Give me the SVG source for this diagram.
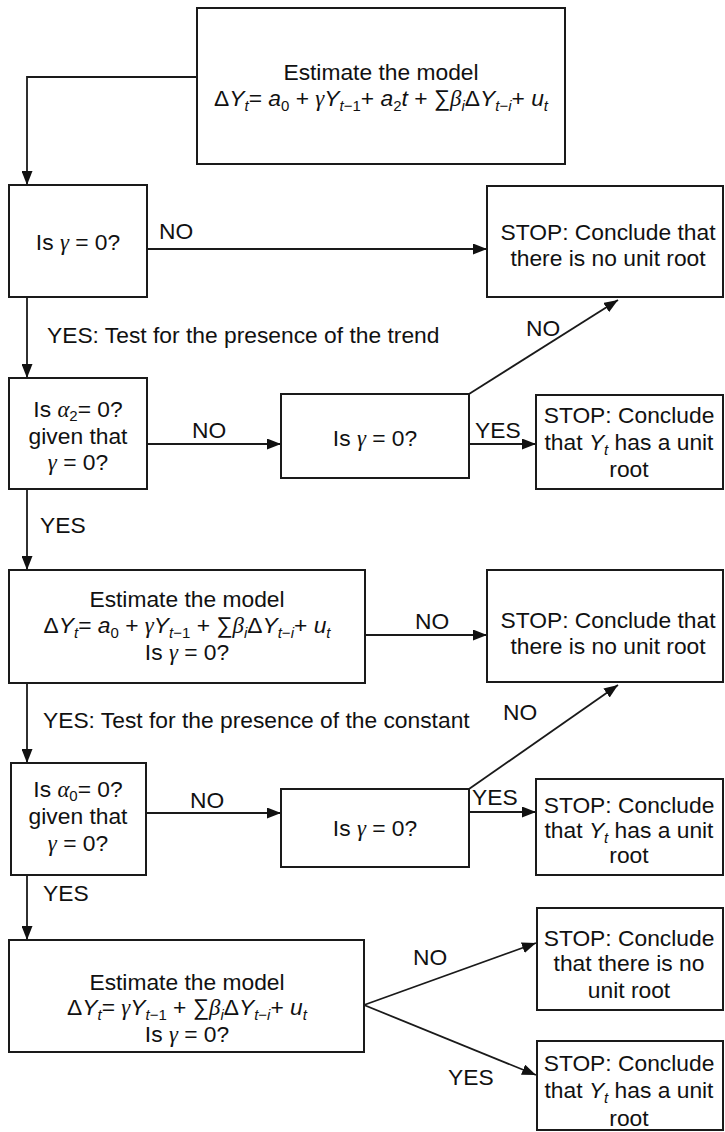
<svg xmlns="http://www.w3.org/2000/svg" width="725" height="1132" viewBox="0 0 725 1132">
  <style>
    .box { fill: #ffffff; stroke: #1a1a1a; stroke-width: 2; }
    .wire { fill: none; stroke: #1a1a1a; stroke-width: 1.8; }
    text { font-family: "Liberation Sans", Arial, sans-serif; font-size: 22.8px; fill: #111111; }
    .c { text-anchor: middle; }
    .i { font-style: italic; }
    .g { font-family: "Liberation Serif", "DejaVu Serif", serif; font-style: italic; }
    .sb { font-size: 15px; font-style: italic; }
    .sn { font-size: 15px; }
  </style>
  <defs>
    <marker id="arrow" viewBox="0 0 14 11" refX="14" refY="5.5" markerWidth="14" markerHeight="11" markerUnits="userSpaceOnUse" orient="auto">
      <path d="M0,0 L14,5.5 L0,11 Z" fill="#111111"/>
    </marker>
  </defs>
  <rect width="725" height="1132" fill="#ffffff"/>

  <!-- connectors -->
  <g id="connectors">
    <path class="wire" d="M197,77 H27 V185" marker-end="url(#arrow)"/>
    <path class="wire" d="M147,249 H487" marker-end="url(#arrow)"/>
    <path class="wire" d="M27,297 V378" marker-end="url(#arrow)"/>
    <path class="wire" d="M147,444 H281" marker-end="url(#arrow)"/>
    <path class="wire" d="M469,444 H536" marker-end="url(#arrow)"/>
    <path class="wire" d="M469,394 L618,300" marker-end="url(#arrow)"/>
    <path class="wire" d="M27,489 V570" marker-end="url(#arrow)"/>
    <path class="wire" d="M365,635 H487" marker-end="url(#arrow)"/>
    <path class="wire" d="M27,683 V763" marker-end="url(#arrow)"/>
    <path class="wire" d="M146,813 H281" marker-end="url(#arrow)"/>
    <path class="wire" d="M469,812 H536" marker-end="url(#arrow)"/>
    <path class="wire" d="M469,789 L618,685" marker-end="url(#arrow)"/>
    <path class="wire" d="M27,875 V940" marker-end="url(#arrow)"/>
    <path class="wire" d="M364,1005 L536,943" marker-end="url(#arrow)"/>
    <path class="wire" d="M364,1005 L536,1075" marker-end="url(#arrow)"/>

    <!-- branch labels -->
    <text x="159" y="239">NO</text>
    <text x="47" y="343">YES: Test for the presence of the trend</text>
    <text x="526" y="336">NO</text>
    <text x="192" y="438">NO</text>
    <text x="475" y="438">YES</text>
    <text x="40" y="533">YES</text>
    <text x="415" y="629">NO</text>
    <text x="43" y="728">YES: Test for the presence of the constant</text>
    <text x="503" y="720">NO</text>
    <text x="190" y="808">NO</text>
    <text x="472" y="805">YES</text>
    <text x="43" y="901">YES</text>
    <text x="413" y="965">NO</text>
    <text x="448" y="1085">YES</text>
  </g>

  <!-- full model with trend -->
  <g id="model-trend">
    <rect class="box" x="197" y="8" width="368" height="156"/>
    <text class="c" x="381" y="80">Estimate the model</text>
    <text class="c" x="381" y="106">Δ<tspan class="i">Y</tspan><tspan class="sb" dy="5">t</tspan><tspan dy="-5">= </tspan><tspan class="i">a</tspan><tspan class="sn" dy="5">0</tspan><tspan dy="-5"> + </tspan><tspan class="g">γ</tspan><tspan class="i">Y</tspan><tspan class="sb" dy="5">t</tspan><tspan class="sn">−1</tspan><tspan dy="-5">+ </tspan><tspan class="i">a</tspan><tspan class="sn" dy="5">2</tspan><tspan class="i" dy="-5">t</tspan> + ∑<tspan class="g">β</tspan><tspan class="sb" dy="5">i</tspan><tspan dy="-5">Δ</tspan><tspan class="i">Y</tspan><tspan class="sb" dy="5">t</tspan><tspan class="sn">−</tspan><tspan class="sb">i</tspan><tspan dy="-5">+ </tspan><tspan class="i">u</tspan><tspan class="sb" dy="5">t</tspan></text>
  </g>

  <g id="test-gamma-1">
    <rect class="box" x="9" y="185" width="138" height="112"/>
    <text class="c" x="78" y="250">Is <tspan class="g">γ</tspan> = 0?</text>
  </g>

  <g id="stop-no-root-1">
    <rect class="box" x="487" y="186" width="236" height="111"/>
    <text class="c" x="608" y="240">STOP: Conclude that</text>
    <text class="c" x="608" y="266">there is no unit root</text>
  </g>

  <g id="test-trend">
    <rect class="box" x="9" y="378" width="138" height="111"/>
    <text class="c" x="78" y="417">Is <tspan class="g">α</tspan><tspan class="sn" dy="4">2</tspan><tspan dy="-4">= 0?</tspan></text>
    <text class="c" x="78" y="444">given that</text>
    <text class="c" x="78" y="470"><tspan class="g">γ</tspan> = 0?</text>
  </g>

  <g id="test-gamma-2">
    <rect class="box" x="281" y="394" width="188" height="84"/>
    <text class="c" x="375" y="446">Is <tspan class="g">γ</tspan> = 0?</text>
  </g>

  <g id="stop-unit-root-1">
    <rect class="box" x="536" y="395" width="187" height="94"/>
    <text class="c" x="629" y="423">STOP: Conclude</text>
    <text class="c" x="629" y="450">that <tspan class="i">Y</tspan><tspan class="sb" dy="5">t</tspan><tspan dy="-5"> has a unit</tspan></text>
    <text class="c" x="629" y="477">root</text>
  </g>

  <!-- model with constant only -->
  <g id="model-constant">
    <rect class="box" x="9" y="570" width="356" height="113"/>
    <text class="c" x="187" y="607">Estimate the model</text>
    <text class="c" x="187" y="633">Δ<tspan class="i">Y</tspan><tspan class="sb" dy="5">t</tspan><tspan dy="-5">= </tspan><tspan class="i">a</tspan><tspan class="sn" dy="5">0</tspan><tspan dy="-5"> + </tspan><tspan class="g">γ</tspan><tspan class="i">Y</tspan><tspan class="sb" dy="5">t</tspan><tspan class="sn">−1</tspan><tspan dy="-5"> + ∑</tspan><tspan class="g">β</tspan><tspan class="sb" dy="5">i</tspan><tspan dy="-5">Δ</tspan><tspan class="i">Y</tspan><tspan class="sb" dy="5">t</tspan><tspan class="sn">−</tspan><tspan class="sb">i</tspan><tspan dy="-5">+ </tspan><tspan class="i">u</tspan><tspan class="sb" dy="5">t</tspan></text>
    <text class="c" x="187" y="660">Is <tspan class="g">γ</tspan> = 0?</text>
  </g>

  <g id="stop-no-root-2">
    <rect class="box" x="487" y="570" width="236" height="112"/>
    <text class="c" x="608" y="628">STOP: Conclude that</text>
    <text class="c" x="608" y="654">there is no unit root</text>
  </g>

  <g id="test-constant">
    <rect class="box" x="11" y="763" width="135" height="112"/>
    <text class="c" x="78" y="797">Is <tspan class="g">α</tspan><tspan class="sn" dy="4">0</tspan><tspan dy="-4">= 0?</tspan></text>
    <text class="c" x="78" y="824">given that</text>
    <text class="c" x="78" y="851"><tspan class="g">γ</tspan> = 0?</text>
  </g>

  <g id="test-gamma-3">
    <rect class="box" x="281" y="789" width="188" height="78"/>
    <text class="c" x="375" y="836">Is <tspan class="g">γ</tspan> = 0?</text>
  </g>

  <g id="stop-unit-root-2">
    <rect class="box" x="536" y="779" width="187" height="96"/>
    <text class="c" x="629" y="813">STOP: Conclude</text>
    <text class="c" x="629" y="838">that <tspan class="i">Y</tspan><tspan class="sb" dy="5">t</tspan><tspan dy="-5"> has a unit</tspan></text>
    <text class="c" x="629" y="863">root</text>
  </g>

  <!-- model without constant or trend -->
  <g id="model-none">
    <rect class="box" x="9" y="940" width="355" height="112"/>
    <text class="c" x="187" y="990">Estimate the model</text>
    <text class="c" x="187" y="1015">Δ<tspan class="i">Y</tspan><tspan class="sb" dy="5">t</tspan><tspan dy="-5">= </tspan><tspan class="g">γ</tspan><tspan class="i">Y</tspan><tspan class="sb" dy="5">t</tspan><tspan class="sn">−1</tspan><tspan dy="-5"> + ∑</tspan><tspan class="g">β</tspan><tspan class="sb" dy="5">i</tspan><tspan dy="-5">Δ</tspan><tspan class="i">Y</tspan><tspan class="sb" dy="5">t</tspan><tspan class="sn">−</tspan><tspan class="sb">i</tspan><tspan dy="-5">+ </tspan><tspan class="i">u</tspan><tspan class="sb" dy="5">t</tspan></text>
    <text class="c" x="187" y="1042">Is <tspan class="g">γ</tspan> = 0?</text>
  </g>

  <g id="stop-no-root-3">
    <rect class="box" x="537" y="908" width="186" height="102"/>
    <text class="c" x="629" y="946">STOP: Conclude</text>
    <text class="c" x="629" y="971">that there is no</text>
    <text class="c" x="629" y="998">unit root</text>
  </g>

  <g id="stop-unit-root-3">
    <rect class="box" x="537" y="1041" width="186" height="89"/>
    <text class="c" x="629" y="1071">STOP: Conclude</text>
    <text class="c" x="629" y="1098">that <tspan class="i">Y</tspan><tspan class="sb" dy="5">t</tspan><tspan dy="-5"> has a unit</tspan></text>
    <text class="c" x="629" y="1126">root</text>
  </g>
</svg>
